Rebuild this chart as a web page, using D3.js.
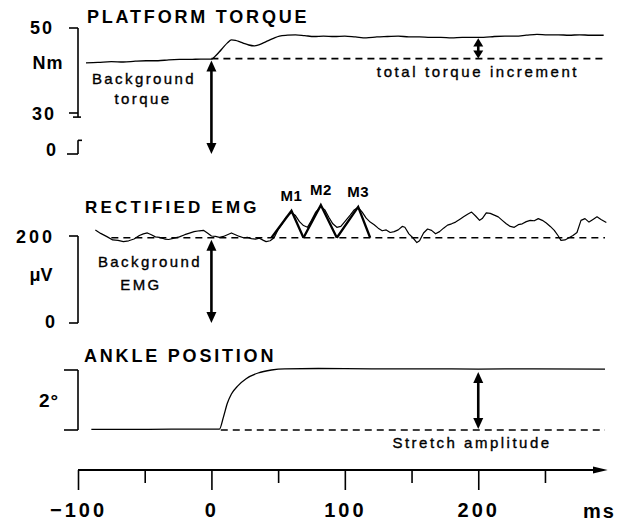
<!DOCTYPE html>
<html>
<head>
<meta charset="utf-8">
<script src="https://cdn.jsdelivr.net/npm/d3@7"></script>
<style>
  html, body { margin: 0; padding: 0; background: #fff; }
  svg { display: block; font-family: "Liberation Sans", Arial, sans-serif; }
</style>
</head>
<body>
<div id="chart"></div>
<script>
// ------------------------------------------------------------
// 1. Data
// ------------------------------------------------------------
// time in ms, relative to stretch onset
const torqueTime = [-94, -85, -75, -66, -57, -49, -40, -32, -24, -16, -8, 0, 3, 6, 9, 12, 15, 18, 21, 25, 28, 32, 36, 41, 46, 51, 57, 63, 70, 77, 84, 92, 100, 108, 116, 124, 132, 140, 148, 156, 164, 172, 180, 188, 196, 204, 212, 220, 228, 236, 244, 252, 260, 268, 276, 284, 294];
const torqueNm = [41.8, 41.9, 42.1, 42.0, 42.2, 42.3, 42.3, 42.5, 42.6, 42.6, 42.7, 42.7, 43.4, 44.4, 45.5, 46.5, 47.2, 47.1, 46.8, 46.3, 46.0, 45.8, 46.1, 46.8, 47.5, 48.1, 48.3, 48.4, 48.2, 48.0, 48.1, 48.0, 48.1, 47.9, 47.7, 47.9, 48.0, 48.1, 47.9, 47.9, 47.8, 47.8, 47.7, 47.8, 47.8, 47.8, 48.0, 48.1, 48.1, 48.3, 48.5, 48.4, 48.4, 48.3, 48.4, 48.3, 48.3];

const emgTime = [-87, -83, -78, -74, -70, -66, -62, -58, -54, -51, -48, -45, -42, -39, -35, -32, -28, -24, -20, -17, -13, -9, -6, -3, 0, 3, 6, 9, 12, 15, 18, 21, 24, 27, 30, 33, 36, 39, 41, 44, 47, 50, 53, 56, 60, 63, 66, 69, 72, 75, 78, 82, 85, 88, 91, 94, 97, 100, 104, 107, 110, 113, 116, 119, 122, 125, 128, 131, 134, 137, 140, 143, 145, 148, 151, 154, 156, 159, 162, 165, 168, 171, 174, 177, 180, 183, 186, 189, 192, 195, 198, 201, 203, 206, 209, 212, 215, 218, 221, 224, 227, 230, 233, 236, 239, 242, 245, 248, 251, 254, 257, 260, 262, 265, 268, 271, 274, 277, 280, 283, 286, 289, 292, 296];
const emgUv = [214, 206, 198, 191, 190, 187, 189, 193, 201, 205, 207, 203, 198, 197, 193, 192, 195, 198, 203, 206, 210, 212, 213, 207, 200, 199, 197, 199, 203, 207, 203, 199, 196, 197, 194, 193, 195, 190, 187, 189, 196, 215, 228, 243, 254, 247, 233, 224, 220, 236, 254, 268, 260, 243, 228, 220, 222, 233, 248, 260, 266, 255, 241, 232, 226, 218, 212, 214, 208, 210, 214, 222, 220, 205, 196, 185, 189, 207, 216, 213, 205, 210, 218, 225, 228, 232, 238, 244, 250, 255, 246, 236, 240, 253, 252, 248, 244, 236, 228, 222, 220, 226, 228, 233, 236, 235, 240, 236, 230, 222, 213, 200, 190, 191, 196, 201, 208, 236, 240, 232, 238, 244, 238, 231];

// M1, M2, M3 triangles: base start, apex time, base end, apex amplitude
const burstNames = ["M1", "M2", "M3"];
const burstStart = [45, 69, 94];
const burstPeakTime = [60, 82, 110];
const burstEnd = [69, 94, 119];
const burstPeakUv = [258, 271, 267];

const ankleTime = [-90, -60, -30, 0, 6, 9, 12, 15, 20, 26, 35, 45, 55, 80, 120, 160, 200, 240, 295];
const ankleDeg = [0.02, 0.02, 0.03, 0.03, 0.03, 0.43, 0.9, 1.2, 1.48, 1.71, 1.9, 2.0, 2.04, 2.05, 2.04, 2.04, 2.03, 2.04, 2.03];

const baseTorque = 42.8;
const finalTorque = 47.8;
const baseEmg = 196;
const stretchDeg = 2;

const majorTicks = [-100, 0, 100, 200];
const minorTicks = [-50, 50, 150, 250];
const torqueBreak = [10, 27];

// ------------------------------------------------------------
// 2. Svg and scales
// ------------------------------------------------------------
const width = 617;
const height = 526;

const svg = d3.select("#chart")
  .append("svg")
  .attr("width", width)
  .attr("height", height);

const x = d3.scaleLinear().domain([-100, 295]).range([78, 605]);
// broken axis: 0 sits just below 30
const yTorque = d3.scaleLinear().domain([0, 30, 50]).range([154, 113, 28]);
const yEmg = d3.scaleLinear().domain([0, 200]).range([323, 236]);
const yAnkle = d3.scaleLinear().domain([0, 2]).range([430, 370]);

const bracketX = 78;

function hline(y, x1, x2, w) {
  svg.append("line").attr("x1", x1).attr("x2", x2).attr("y1", y).attr("y2", y)
    .attr("stroke", "#000").attr("stroke-width", w || 1.6);
}
function vline(xp, y1, y2, w) {
  svg.append("line").attr("x1", xp).attr("x2", xp).attr("y1", y1).attr("y2", y2)
    .attr("stroke", "#000").attr("stroke-width", w || 1.6);
}
function dashed(y, x1, x2) {
  svg.append("line").attr("x1", x1).attr("x2", x2).attr("y1", y).attr("y2", y)
    .attr("stroke", "#000").attr("stroke-width", 1.6).attr("stroke-dasharray", "7,5");
}
function label(txt, xp, yp, size, opts) {
  opts = opts || {};
  const t = svg.append("text")
    .attr("x", xp).attr("y", yp)
    .attr("font-size", size)
    .attr("font-weight", opts.bold ? "bold" : "normal")
    .attr("letter-spacing", opts.ls != null ? opts.ls : 0)
    .attr("text-anchor", opts.anchor || "start")
    .attr("fill", "#000")
    .text(txt);
  // the small annotations are a medium weight in the print
  if (!opts.bold) t.attr("stroke", "#000").attr("stroke-width", 0.35);
  return t;
}
// double headed arrow
function dArrow(xp, yTop, yBot) {
  const hl = Math.min(11, (yBot - yTop) * 0.4), hw = 5;
  vline(xp, yTop + hl - 1, yBot - hl + 1, 2.6);
  svg.append("path")
    .attr("d", `M${xp},${yTop} L${xp - hw},${yTop + hl} L${xp + hw},${yTop + hl} Z`)
    .attr("fill", "#000");
  svg.append("path")
    .attr("d", `M${xp},${yBot} L${xp - hw},${yBot - hl} L${xp + hw},${yBot - hl} Z`)
    .attr("fill", "#000");
}

// ------------------------------------------------------------
// 3. Platform torque
// ------------------------------------------------------------
label("PLATFORM TORQUE", 87, 23, 18, { bold: true, ls: 2.8 });

hline(yTorque(50), 69, bracketX);
vline(bracketX, yTorque(50), yTorque(torqueBreak[1]));
hline(yTorque(30), 69, bracketX);
hline(yTorque(torqueBreak[1]), 73, 81);
vline(bracketX, yTorque(torqueBreak[0]), yTorque(0));
hline(yTorque(torqueBreak[0]), bracketX, 82);
hline(yTorque(0), 67, bracketX);

label("50", 54, 34, 18, { bold: true, ls: 2, anchor: "end" });
label("Nm", 48, 69, 18, { bold: true, ls: 1, anchor: "middle" });
label("30", 56, 120, 18, { bold: true, ls: 2, anchor: "end" });
label("0", 56, 156, 18, { bold: true, anchor: "end" });

dashed(yTorque(baseTorque), x(0), x(295));

const torqueLine = d3.line()
  .x((d, i) => x(torqueTime[i]))
  .y(d => yTorque(d))
  .curve(d3.curveMonotoneX);

svg.append("path")
  .attr("d", torqueLine(torqueNm))
  .attr("fill", "none")
  .attr("stroke", "#000")
  .attr("stroke-width", 1.3);

dArrow(x(0), yTorque(baseTorque) + 2, yTorque(0));
dArrow(x(200), yTorque(finalTorque) + 1, yTorque(baseTorque));

label("Background", 144, 84, 15, { ls: 2.4, anchor: "middle" });
label("torque", 143, 104, 15, { ls: 2.4, anchor: "middle" });
label("total torque increment", 478, 77, 15, { ls: 2.6, anchor: "middle" });

// ------------------------------------------------------------
// 4. Rectified EMG
// ------------------------------------------------------------
label("RECTIFIED EMG", 85, 213, 17, { bold: true, ls: 3.2 });

hline(yEmg(200), 69, bracketX);
vline(bracketX, yEmg(200), yEmg(0));
hline(yEmg(0), 69, bracketX);

label("200", 55, 243, 18, { bold: true, ls: 3, anchor: "end" });
label("\u03bcV", 41, 281, 18, { bold: true, ls: 0, anchor: "middle" });
label("0", 55, 328, 18, { bold: true, anchor: "end" });

dashed(yEmg(baseEmg), x(-75), x(295));

const emgLine = d3.line()
  .x((d, i) => x(emgTime[i]))
  .y(d => yEmg(d));

svg.append("path")
  .attr("d", emgLine(emgUv))
  .attr("fill", "none")
  .attr("stroke", "#000")
  .attr("stroke-width", 1.2)
  .attr("stroke-linejoin", "round");

// burst triangles
burstNames.forEach((name, i) => {
  const pts = [
    [x(burstStart[i]), yEmg(baseEmg)],
    [x(burstPeakTime[i]), yEmg(burstPeakUv[i])],
    [x(burstEnd[i]), yEmg(baseEmg)]
  ];
  svg.append("path")
    .attr("d", d3.line()(pts))
    .attr("fill", "none")
    .attr("stroke", "#000")
    .attr("stroke-width", 2.3)
    .attr("stroke-linejoin", "miter");
  label(name, x(burstPeakTime[i]), yEmg(burstPeakUv[i]) - 10, 15, { bold: true, ls: 0.5, anchor: "middle" });
});

dArrow(x(0), yEmg(baseEmg) + 2, yEmg(0));

label("Background", 150, 267, 15, { ls: 2.4, anchor: "middle" });
label("EMG", 141, 290, 15, { ls: 2.4, anchor: "middle" });

// ------------------------------------------------------------
// 5. Ankle position
// ------------------------------------------------------------
label("ANKLE POSITION", 84, 362, 18, { bold: true, ls: 2.8 });

hline(yAnkle(2), 64, bracketX);
vline(bracketX, yAnkle(2), yAnkle(0));
hline(yAnkle(0), 64, bracketX);
label("2\u00b0", 49, 407, 19, { bold: true, ls: 1, anchor: "middle" });

dashed(yAnkle(0), x(7), x(295));

const ankleLine = d3.line()
  .x((d, i) => x(ankleTime[i]))
  .y(d => yAnkle(d))
  .curve(d3.curveMonotoneX);

svg.append("path")
  .attr("d", ankleLine(ankleDeg))
  .attr("fill", "none")
  .attr("stroke", "#000")
  .attr("stroke-width", 1.3);

dArrow(x(200), yAnkle(stretchDeg) + 2, yAnkle(0) - 1);

label("Stretch amplitude", 472, 448, 15, { ls: 2.5, anchor: "middle" });

// ------------------------------------------------------------
// 6. Time axis
// ------------------------------------------------------------
const axisY = 470;

const majorAxis = d3.axisBottom(x)
  .tickValues(majorTicks)
  .tickSize(20)
  .tickPadding(13)
  .tickFormat(d => d < 0 ? "\u2212" + Math.abs(d) : d);

const minorAxis = d3.axisBottom(x)
  .tickValues(minorTicks)
  .tickSize(13)
  .tickFormat("");

const gMajor = svg.append("g").attr("transform", `translate(0,${axisY})`).call(majorAxis);
const gMinor = svg.append("g").attr("transform", `translate(0,${axisY})`).call(minorAxis);
gMajor.select(".domain").remove();
gMinor.select(".domain").remove();

svg.selectAll(".tick line").attr("stroke", "#000").attr("stroke-width", 1.6);
gMajor.selectAll(".tick text")
  .attr("font-family", "Liberation Sans, Arial, sans-serif")
  .attr("font-size", 20)
  .attr("font-weight", "bold")
  .attr("letter-spacing", 3)
  .attr("fill", "#000");

hline(axisY, x(-100), x(290), 1.8);
svg.append("path")
  .attr("d", `M${x(297)},${axisY} L${x(286)},${axisY - 3.5} L${x(286)},${axisY + 3.5} Z`)
  .attr("fill", "#000");

label("ms", 583, 518, 20, { bold: true, ls: 2 });
</script>
</body>
</html>
